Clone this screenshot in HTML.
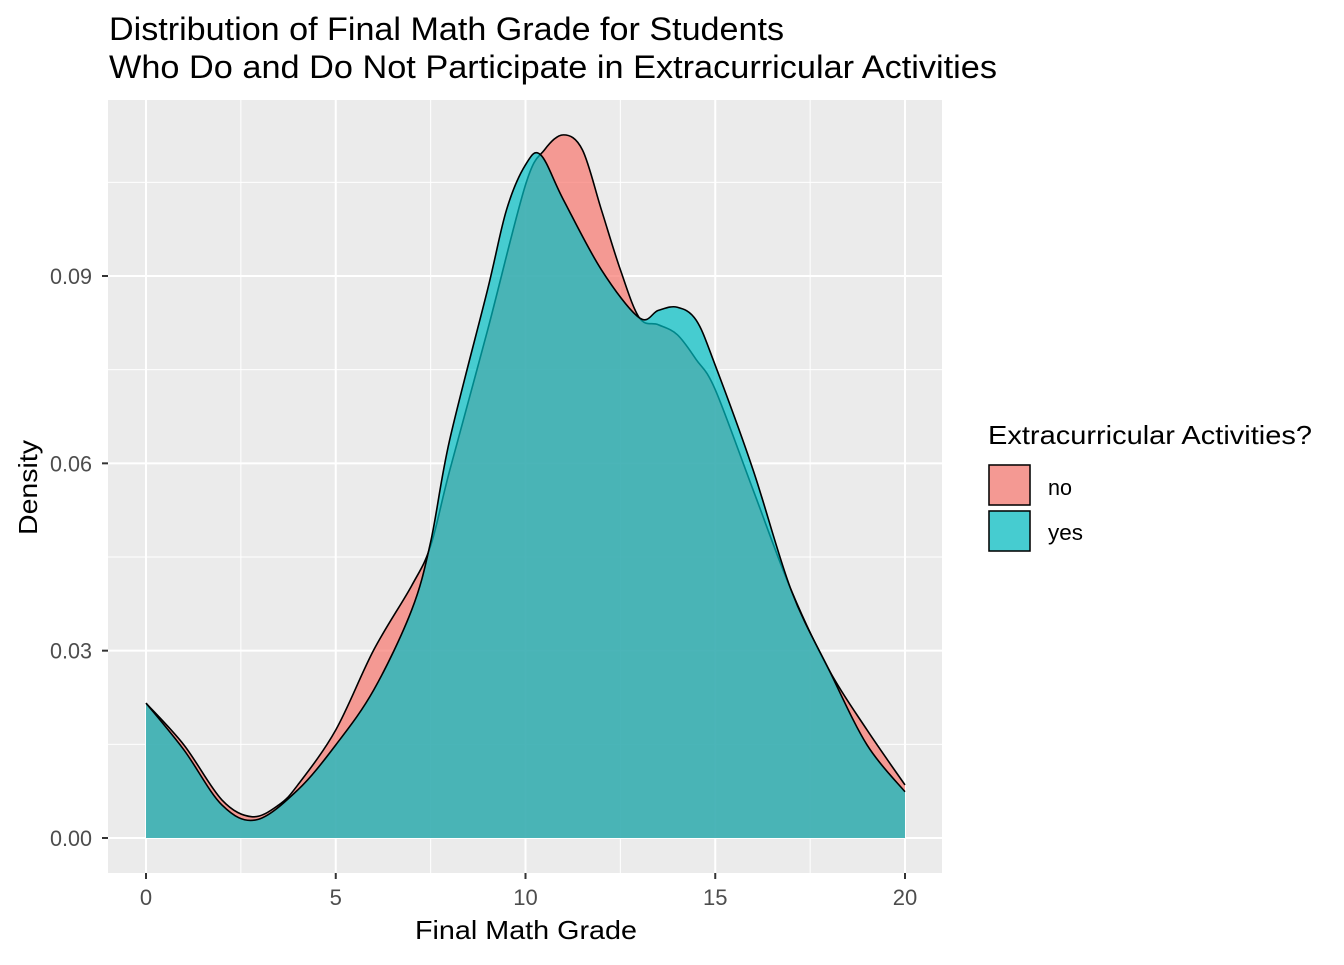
<!DOCTYPE html>
<html><head><meta charset="utf-8"><style>
body{margin:0;background:#fff;}
svg text{font-family:"Liberation Sans",Arial,sans-serif;}
</style></head><body>
<svg id="chart" width="1344" height="960">
<rect width="1344" height="960" fill="#fff"/>
<text x="109" y="40" font-size="32" textLength="675" lengthAdjust="spacingAndGlyphs" fill="#000">Distribution of Final Math Grade for Students</text>
<text x="109" y="78" font-size="32" textLength="888" lengthAdjust="spacingAndGlyphs" fill="#000">Who Do and Do Not Participate in Extracurricular Activities</text>
<rect x="108" y="100" width="834" height="773" fill="#EBEBEB"/>
<g id="grid"></g>
<g id="areas"></g>
<g id="axes"></g>
<text x="415" y="939" font-size="26" textLength="222" lengthAdjust="spacingAndGlyphs">Final Math Grade</text>
<text transform="translate(37,535) rotate(-90)" font-size="26" textLength="95" lengthAdjust="spacingAndGlyphs">Density</text>
<g>
<text x="988" y="444" font-size="26" textLength="324" lengthAdjust="spacingAndGlyphs">Extracurricular Activities?</text>
<rect x="988" y="464" width="43" height="42" fill="#EBEBEB"/>
<rect x="989" y="465" width="41" height="40" fill="#F8766D" fill-opacity="0.7" stroke="#000" stroke-width="1.5"/>
<text x="1048" y="495" font-size="22" textLength="24" lengthAdjust="spacingAndGlyphs">no</text>
<rect x="988" y="510" width="43" height="42" fill="#EBEBEB"/>
<rect x="989" y="511" width="41" height="40" fill="#00BFC4" fill-opacity="0.7" stroke="#000" stroke-width="1.5"/>
<text x="1048" y="540" font-size="22" textLength="35" lengthAdjust="spacingAndGlyphs">yes</text>
</g>
</svg>
<script>
const xNo=[0,1,2,2.8,3.5,4,5,6,7,7.5,8,9,10,10.5,11,11.5,12,12.5,13,13.5,14,14.5,15,16,17,18,19,20];
const dNo=[0.0216,0.0149,0.0061,0.0034,0.0053,0.0085,0.0173,0.0301,0.0404,0.0468,0.0588,0.0813,0.1046,0.1102,0.1126,0.1102,0.1006,0.0910,0.0833,0.0822,0.0806,0.0766,0.0718,0.0557,0.0397,0.0269,0.0173,0.0085];
const xYes=[0,1,2,2.9,4,5,6,7,7.5,8,9,9.5,10,10.4,11,12,13,13.5,14,14.5,15,16,17,18,19,20];
const dYes=[0.0216,0.0141,0.0053,0.0029,0.0077,0.0149,0.0237,0.0365,0.0474,0.0637,0.0878,0.1006,0.1078,0.1094,0.1022,0.0910,0.0833,0.0845,0.0850,0.0829,0.0757,0.0589,0.0397,0.0269,0.0149,0.0074];
const xTicks=[0,5,10,15,20];
const yTicks=[0,0.03,0.06,0.09];
const yTickLabels=["0.00","0.03","0.06","0.09"];
const NS="http://www.w3.org/2000/svg";
const sx=v=>146+v*(905-146)/20;
const sy=v=>838-v*(838-276)/0.09;
function mk(tag,attrs,parent){const e=document.createElementNS(NS,tag);for(const k in attrs)e.setAttribute(k,attrs[k]);parent.appendChild(e);return e;}
const grid=document.getElementById('grid'),axes=document.getElementById('axes'),areas=document.getElementById('areas');
for(let i=0;i<xTicks.length;i++){
  const x=sx(xTicks[i]);
  const g=mk('line',{x1:x,x2:x,y1:100,y2:873,stroke:'#fff','stroke-width':2},grid);
  
  
  if(i<xTicks.length-1){const xm=sx((xTicks[i]+xTicks[i+1])/2);mk('line',{x1:xm,x2:xm,y1:100,y2:873,stroke:'#fff','stroke-width':1},grid);}
  mk('line',{x1:x,x2:x,y1:873,y2:879,stroke:'#333','stroke-width':2},axes);
  const t=mk('text',{x:x,y:905,'font-size':22,'text-anchor':'middle',fill:'#4d4d4d'},axes);t.textContent=xTicks[i];
  
  
}
for(let i=0;i<yTicks.length;i++){
  const y=sy(yTicks[i]);
  const g=mk('line',{x1:108,x2:942,y1:y,y2:y,stroke:'#fff','stroke-width':2},grid);
  
  
  const ym=sy(yTicks[i]+0.015);mk('line',{x1:108,x2:942,y1:ym,y2:ym,stroke:'#fff','stroke-width':1},grid);
  mk('line',{x1:102,x2:108,y1:y,y2:y,stroke:'#333','stroke-width':2},axes);
  const t=mk('text',{x:50,y:y+8,'font-size':22,textLength:42,lengthAdjust:'spacingAndGlyphs',fill:'#4d4d4d'},axes);t.textContent=yTickLabels[i];
  
  
}
function curve(xs,ds){
  const p=xs.map((x,i)=>[sx(x),sy(ds[i])]);
  let d=`M${p[0][0]},${p[0][1]}`;
  for(let i=0;i<p.length-1;i++){
    const p0=p[Math.max(0,i-1)],p1=p[i],p2=p[i+1],p3=p[Math.min(p.length-1,i+2)];
    const c1=[p1[0]+(p2[0]-p0[0])/6,p1[1]+(p2[1]-p0[1])/6];
    const c2=[p2[0]-(p3[0]-p1[0])/6,p2[1]-(p3[1]-p1[1])/6];
    d+=`C${c1[0]},${c1[1]} ${c2[0]},${c2[1]} ${p2[0]},${p2[1]}`;
  }
  return {d,first:p[0],last:p[p.length-1]};
}
function area(xs,ds,color,name){
  const c=curve(xs,ds);
  const a=mk('path',{d:c.d+`L${c.last[0]},${sy(0)}L${c.first[0]},${sy(0)}Z`,fill:color,'fill-opacity':0.7},areas);
  
  
  mk('path',{d:c.d,fill:'none',stroke:'#000','stroke-width':1.6},areas);
}
area(xNo,dNo,'#F8766D','density-area-no');
area(xYes,dYes,'#00BFC4','density-area-yes');
</script>
</body></html>
